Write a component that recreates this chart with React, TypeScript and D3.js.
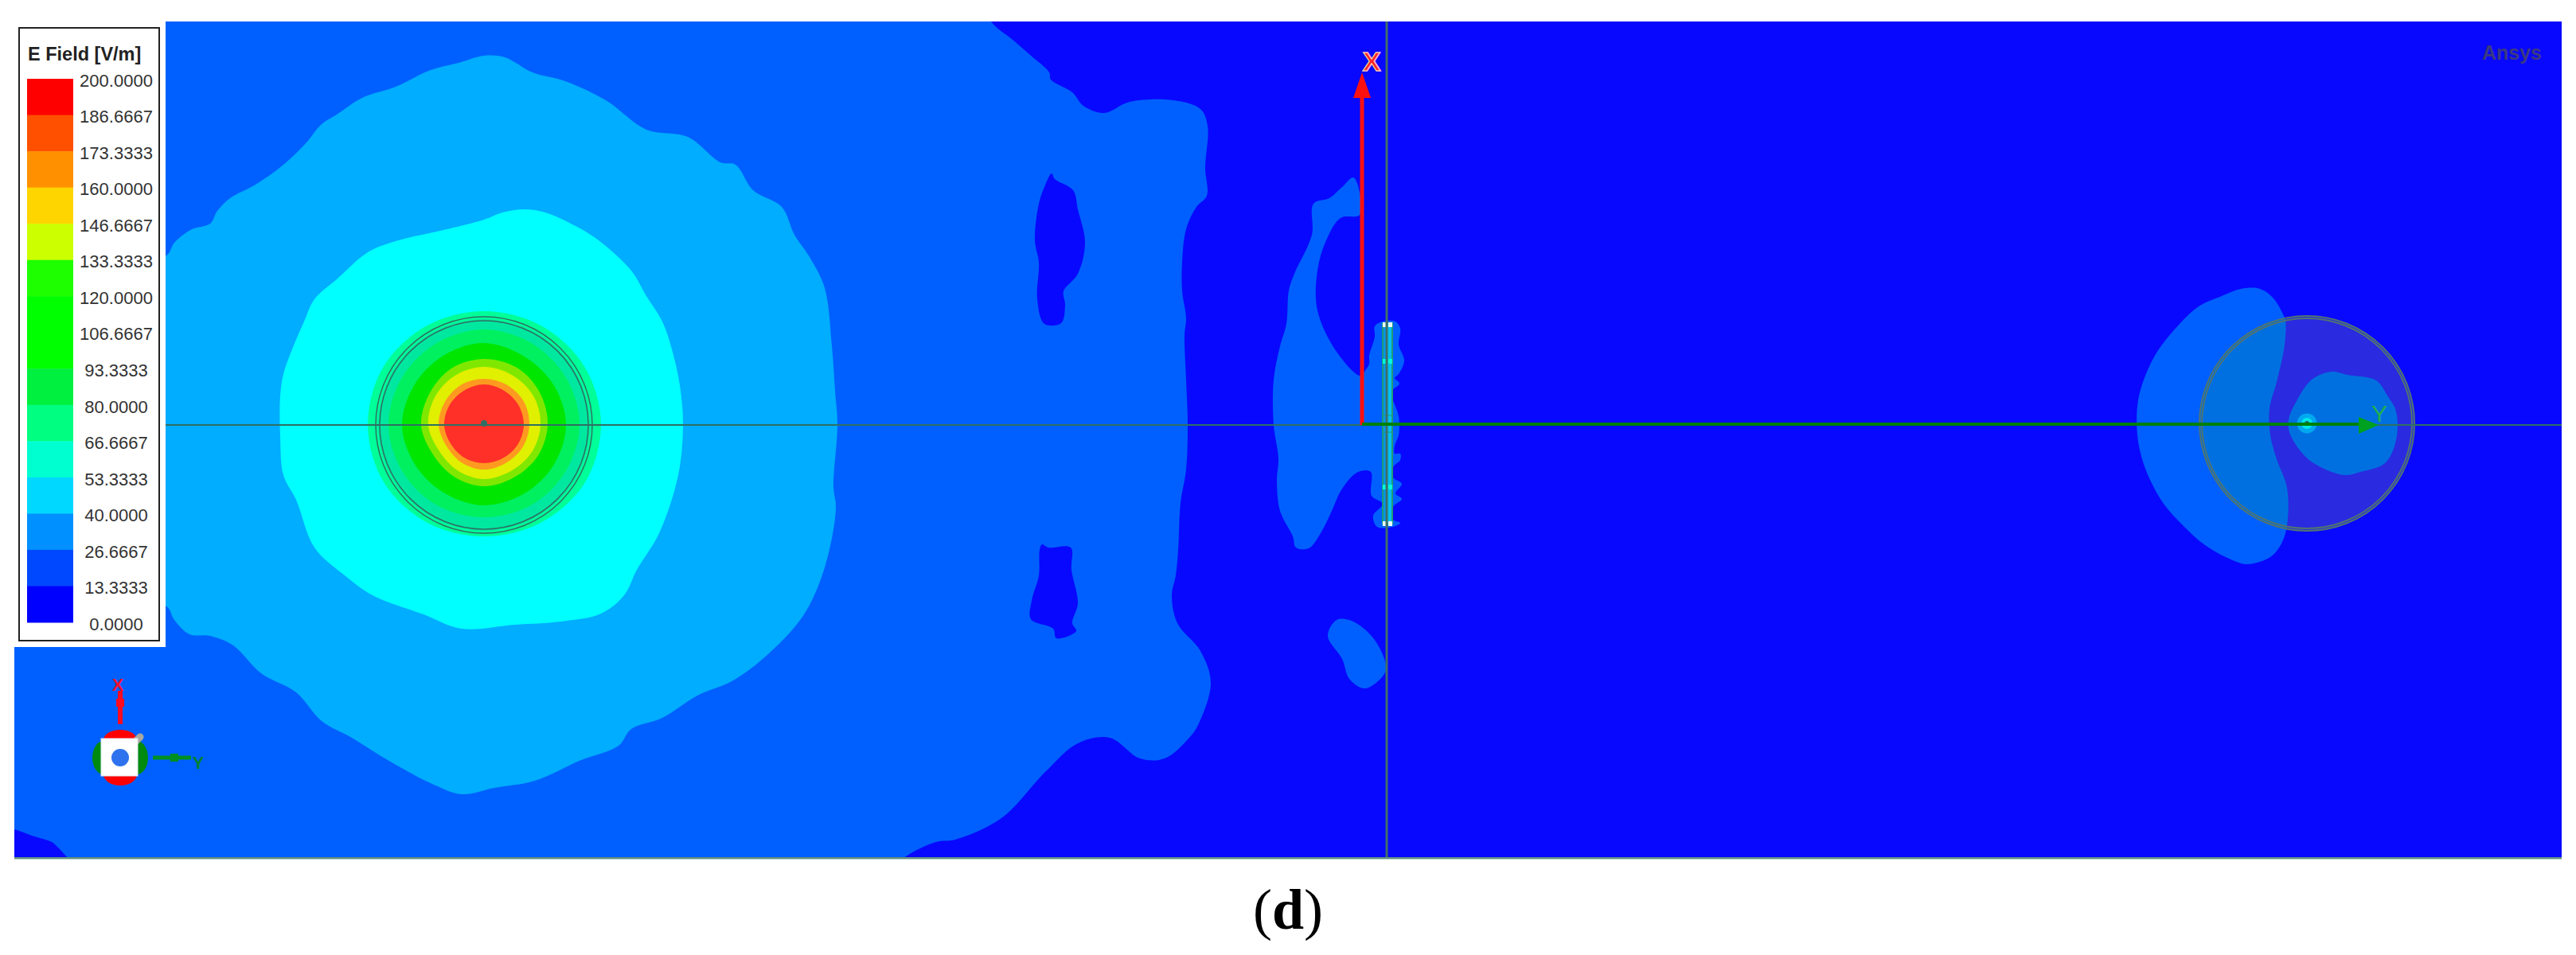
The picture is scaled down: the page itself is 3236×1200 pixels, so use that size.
import * as d3 from 'd3'

const W = 3236
const H = 1200
const PLOT = { left: 18, right: 3218, top: 27, bottom: 1078 }

const legendLabels = ['200.0000', '186.6667', '173.3333', '160.0000', '146.6667', '133.3333', '120.0000', '106.6667', '93.3333', '80.0000', '66.6667', '53.3333', '40.0000', '26.6667', '13.3333', '0.0000']
const legendColors = ['#ff0000', '#ff5000', '#ff9000', '#ffd500', '#ccff00', '#1eff00', '#00ff00', '#00ff00', '#00f040', '#00ff80', '#00ffd0', '#00d8ff', '#0090ff', '#0048ff', '#0000ff']

// contours (plot frame)
const midContour = [[-60, -60], [1215, -40], [1245, 27], [1271, 49], [1294, 69], [1318, 91], [1320, 100], [1347, 116], [1361, 133], [1387, 142], [1419, 128], [1474, 126], [1508, 137], [1517, 158], [1514, 211], [1516, 246], [1503, 260], [1490, 288], [1485, 330], [1485, 365], [1490, 400], [1488, 421], [1490, 477], [1492, 534], [1490, 590], [1483, 632], [1480, 691], [1477, 723], [1472, 748], [1479, 783], [1508, 818], [1521, 858], [1506, 909], [1494, 927], [1463, 953], [1432, 953], [1394, 927], [1354, 934], [1314, 969], [1258, 1028], [1200, 1055], [1176, 1058], [1135, 1078], [1090, 1120], [120, 1120], [85, 1078], [70, 1062], [65, 1058], [40, 1050], [18, 1042], [-30, 1030]]
const holeUpper = [[1321, 218], [1325, 225], [1348, 239], [1354, 263], [1363, 305], [1354, 344], [1336, 366], [1338, 383], [1333, 406], [1312, 407], [1303, 376], [1305, 330], [1300, 302], [1305, 256], [1312, 235]]
const holeLower = [[1309, 684], [1317, 688], [1345, 688], [1346, 716], [1354, 758], [1347, 783], [1352, 793], [1327, 802], [1323, 790], [1295, 778], [1296, 755], [1305, 723], [1306, 691]]
const lightContour = [[150, 321], [209, 321], [219, 305], [241, 288], [264, 281], [273, 265], [289, 249], [321, 232], [356, 207], [385, 179], [404, 156], [423, 144], [455, 123], [497, 109], [541, 88], [576, 79], [608, 70], [634, 72], [669, 91], [710, 102], [761, 126], [812, 163], [864, 172], [905, 204], [924, 207], [946, 239], [982, 260], [998, 295], [1017, 323], [1036, 362], [1045, 435], [1049, 491], [1052, 534], [1047, 611], [1050, 639], [1036, 713], [1010, 772], [966, 821], [921, 855], [876, 874], [832, 902], [793, 916], [777, 937], [730, 955], [672, 981], [621, 990], [580, 998], [545, 986], [487, 955], [442, 927], [404, 906], [372, 870], [328, 846], [293, 811], [264, 799], [238, 797], [219, 779], [209, 762], [150, 762]]
const cyanContour = [[352, 498], [356, 470], [367, 439], [382, 404], [395, 376], [423, 351], [462, 317], [497, 303], [557, 289], [608, 276], [631, 267], [659, 263], [685, 267], [723, 284], [752, 302], [793, 340], [812, 372], [832, 404], [844, 439], [854, 484], [858, 534], [852, 597], [828, 670], [800, 716], [784, 748], [755, 771], [704, 781], [647, 785], [580, 790], [532, 772], [468, 748], [433, 723], [395, 688], [372, 628], [356, 597], [352, 548]]
const centreBlob = [[1700, 223], [1708, 242], [1708, 270], [1684, 274], [1666, 302], [1655, 340], [1655, 390], [1679, 442], [1708, 472], [1713, 468], [1720, 457], [1720, 447], [1727, 423], [1727, 410], [1737, 404], [1753, 404], [1759, 413], [1757, 433], [1764, 453], [1757, 470], [1752, 475], [1758, 482], [1747, 493], [1752, 508], [1757, 523], [1757, 547], [1752, 560], [1752, 570], [1759, 570], [1759, 578], [1750, 587], [1750, 600], [1761, 608], [1753, 620], [1761, 627], [1750, 637], [1750, 653], [1759, 657], [1750, 662], [1730, 662], [1725, 648], [1737, 633], [1723, 623], [1722, 593], [1706, 593], [1686, 614], [1673, 642], [1659, 670], [1644, 689], [1628, 688], [1624, 674], [1608, 642], [1604, 604], [1606, 576], [1600, 534], [1600, 477], [1608, 435], [1616, 407], [1619, 365], [1626, 344], [1648, 295], [1650, 256], [1670, 249], [1686, 235]]
const lowerBlob = [[1679, 779], [1695, 779], [1717, 793], [1733, 814], [1741, 842], [1726, 860], [1713, 865], [1695, 853], [1686, 828], [1668, 799]]
const portBlob = [[2839, 363], [2856, 375], [2868, 395], [2871, 403], [2870, 433], [2860, 480], [2851, 513], [2852, 547], [2860, 577], [2873, 613], [2873, 660], [2866, 683], [2852, 700], [2823, 709], [2807, 705], [2770, 685], [2742, 660], [2718, 633], [2701, 603], [2691, 577], [2685, 547], [2685, 510], [2691, 483], [2708, 445], [2738, 407], [2762, 385], [2791, 372], [2815, 363]]
const portInner = [[2929, 467], [2949, 471], [2985, 478], [2999, 497], [3010, 517], [3010, 553], [2996, 582], [2965, 593], [2945, 597], [2908, 583], [2890, 567], [2876, 543], [2875, 527], [2886, 502], [2904, 477]]

// hot spot radii, clockwise from the top, every 30 degrees
const hotBands = [
  { color: '#00ff99', radii: [143, 144, 146, 147, 146, 142, 140, 142, 145, 146, 146, 144] },
  { color: '#00e8a0', radii: [133, 133, 133, 133, 133, 133, 133, 133, 133, 133, 133, 133] },
  { color: '#00f060', radii: [120, 119, 119, 120, 118, 117, 116, 117, 118, 120, 119, 119] },
  { color: '#00e600', radii: [103, 100, 101, 103, 101, 100, 101, 99, 100, 103, 101, 101] },
  { color: '#80e800', radii: [83, 83, 81, 80, 78, 76, 77, 75, 74, 79, 79, 82] },
  { color: '#e0f000', radii: [73, 72, 72, 71, 69, 67, 68, 66, 65, 70, 71, 72] },
  { color: '#ff9a20', radii: [58, 58, 58, 57, 56, 55, 56, 55, 54, 57, 57, 58] },
  { color: '#ff3028', radii: [51, 50, 50, 50, 49, 48, 48, 48, 48, 50, 50, 50] },
]
const HOT_CENTRE = [608, 534]
const PORT_CENTRE = [2898, 532]
const STRIP_MARKS = [
  { y: 408, color: '#e8fff8' },
  { y: 454, color: '#00ffd8' },
  { y: 612, color: '#00ffd8' },
  { y: 658, color: '#e8fff8' },
]

const GRID = '#2f6f63'
const DARK = '#0808ff'
const MID = '#0060ff'
const LIGHT = '#00adff'
const CYAN = '#00ffff'

export default function App() {
  const x = d3.scaleLinear().domain([PLOT.left, PLOT.right]).range([PLOT.left, PLOT.right])
  const y = d3.scaleLinear().domain([PLOT.top, PLOT.bottom]).range([PLOT.top, PLOT.bottom])
  const poly = d3.line<number[]>().x(d => x(d[0])).y(d => y(d[1])).curve(d3.curveCatmullRomClosed.alpha(0.5))
  const radial = d3.lineRadial<number>()
    .angle((_, i) => (i * Math.PI) / 6)
    .radius(d => d)
    .curve(d3.curveCatmullRomClosed)

  const legendY = d3.scaleBand<string>().domain(legendColors.map((_, i) => String(i))).range([99, 782])
  const labelY = d3.scalePoint<string>().domain(legendLabels).range([101, 784])

  const arrowRedTop = 91
  const originX = 1711
  const crossX = 1742
  const axisY = 534

  return (
    <svg width={W} height={H} style={{ position: 'absolute', left: 0, top: 0, display: 'block', background: '#fff' }}>
      <defs>
        <clipPath id="plot-clip"><rect x={PLOT.left} y={PLOT.top} width={PLOT.right - PLOT.left} height={PLOT.bottom - PLOT.top} /></clipPath>
        <clipPath id="port-clip"><circle cx={PORT_CENTRE[0]} cy={PORT_CENTRE[1]} r={135} /></clipPath>
      </defs>

      <g clipPath="url(#plot-clip)">
        <rect x={PLOT.left} y={PLOT.top} width={PLOT.right - PLOT.left} height={PLOT.bottom - PLOT.top} fill={DARK} />
        <path d={poly(midContour) ?? ''} fill={MID} />
        <path d={poly(holeUpper) ?? ''} fill={DARK} />
        <path d={poly(holeLower) ?? ''} fill={DARK} />
        <path d={poly(centreBlob) ?? ''} fill={MID} />
        <path d={poly(lowerBlob) ?? ''} fill={MID} />
        <path d={poly(lightContour) ?? ''} fill={LIGHT} />
        <path d={poly(cyanContour) ?? ''} fill={CYAN} />

        {/* hot spot */}
        <g transform={`translate(${x(HOT_CENTRE[0])},${y(HOT_CENTRE[1])})`}>
          {hotBands.map(b => <path key={b.color} d={radial(b.radii) ?? ''} fill={b.color} />)}
          <circle r={136} fill="none" stroke={GRID} strokeWidth={1.5} />
          <circle r={131} fill="none" stroke={GRID} strokeWidth={1.5} />
          <circle cy={-2} r={4} fill={GRID} />
        </g>

        {/* right port */}
        <path d={poly(portBlob) ?? ''} fill={MID} />
        <circle cx={PORT_CENTRE[0]} cy={PORT_CENTRE[1]} r={135} fill="#2a2ae0" />
        <g clipPath="url(#port-clip)">
          <path d={poly(portBlob) ?? ''} fill="#0070e0" />
          <path d={poly(portInner) ?? ''} fill="#0070e0" />
          <circle cx={PORT_CENTRE[0]} cy={PORT_CENTRE[1]} r={12.5} fill="#00a8f0" />
          <circle cx={PORT_CENTRE[0]} cy={PORT_CENTRE[1]} r={7} fill="#00e8e8" />
          <circle cx={PORT_CENTRE[0]} cy={PORT_CENTRE[1]} r={3} fill="#1a6a60" />
        </g>
        <circle cx={PORT_CENTRE[0]} cy={PORT_CENTRE[1]} r={135} fill="none" stroke="#4f7472" strokeWidth={2} />
        <circle cx={PORT_CENTRE[0]} cy={PORT_CENTRE[1]} r={132} fill="none" stroke="#4f7472" strokeWidth={2} />

        {/* feed strip */}
        <rect x={1737} y={406} width={12} height={252} fill="#0098e8" stroke="#1f9a78" strokeWidth={2} />
        <rect x={1743} y={406} width={5} height={252} fill="#00c0f0" />
        <line x1={1737} x2={1749} y1={522} y2={522} stroke="#1f9a78" />
        <line x1={1737} x2={1749} y1={543} y2={543} stroke="#1f9a78" />
        {STRIP_MARKS.map(m => (
          <g key={m.y}>
            <rect x={1737} y={m.y - 3} width={5} height={6} fill={m.color} />
            <rect x={1744} y={m.y - 3} width={5} height={6} fill={m.color} />
          </g>
        ))}

        {/* crosshair */}
        <line x1={x(crossX)} x2={x(crossX)} y1={PLOT.top} y2={PLOT.bottom} stroke="#3f6f68" strokeWidth={3} />
        <line x1={PLOT.left} x2={PLOT.right} y1={y(axisY)} y2={y(axisY)} stroke={GRID} strokeWidth={2} />

        {/* model axes */}
        <line x1={originX} x2={originX} y1={axisY} y2={arrowRedTop + 20} stroke="#ff1010" strokeWidth={5} />
        <path d={`M${originX},${arrowRedTop}L${originX + 11},123L${originX - 11},123Z`} fill="#ff1010" />
        <text x={1723} y={89} textAnchor="middle" fontFamily="Liberation Sans" fontWeight={700} fontSize={34} fill="#ff2020" stroke="#ffc0b0" strokeWidth={1.5}>X</text>
        <line x1={originX} x2={2965} y1={533} y2={533} stroke="#008000" strokeWidth={4} />
        <path d="M2963,524L2988,534L2963,545Z" fill="#00a020" />
        <text x={2989} y={530} textAnchor="middle" fontFamily="Liberation Sans" fontSize={30} fill="#20b050">Y</text>

        <text x={3193} y={75} textAnchor="end" fontFamily="Liberation Sans" fontWeight={700} fontSize={25} fill="#3a3a80">Ansys</text>
      </g>

      <rect x={PLOT.left} y={PLOT.bottom - 1} width={PLOT.right - PLOT.left} height={2.5} fill="#5f8f80" />

      {/* legend */}
      <rect x={PLOT.left} y={PLOT.top} width={190} height={786} fill="#fff" />
      <rect x={24} y={35} width={176} height={770} fill="#fff" stroke="#222" strokeWidth={2} />
      <text x={35} y={76} fontFamily="Liberation Sans" fontWeight={700} fontSize={23.5} fill="#222">E Field [V/m]</text>
      {legendColors.map((c, i) => (
        <rect key={i} x={34} y={legendY(String(i))} width={58} height={legendY.bandwidth() + 0.5} fill={c} />
      ))}
      {legendLabels.map(l => (
        <text key={l} x={146} y={labelY(l)} dy="0.35em" textAnchor="middle" fontFamily="Liberation Sans" fontSize={22} fill="#333">{l}</text>
      ))}

      {/* orientation gizmo */}
      <g>
        <ellipse cx={151} cy={930} rx={21} ry={13} fill="#ff0000" />
        <ellipse cx={151} cy={973} rx={21} ry={14} fill="#ff0000" />
        <ellipse cx={130} cy={952} rx={14} ry={21} fill="#008a10" />
        <ellipse cx={172} cy={952} rx={14} ry={21} fill="#008a10" />
        <line x1={170} x2={176} y1={932} y2={926} stroke="#a8a8a0" strokeWidth={9} strokeLinecap="round" />
        <rect x={127} y={928} width={46} height={47} fill="#fff" stroke="#dfe8f4" strokeWidth={1} />
        <circle cx={151} cy={952} r={11} fill="#2f72ee" />
        <line x1={151} x2={151} y1={910} y2={868} stroke="#ff0a20" strokeWidth={6} />
        <rect x={146} y={878} width={10} height={10} fill="#ff0a20" />
        <text x={148} y={868} textAnchor="middle" fontFamily="Liberation Sans" fontWeight={700} fontSize={22} fill="#f01030">X</text>
        <line x1={192} x2={240} y1={952} y2={952} stroke="#009020" strokeWidth={5} />
        <rect x={214} y={947} width={10} height={10} fill="#009020" />
        <text x={249} y={966} textAnchor="middle" fontFamily="Liberation Sans" fontWeight={700} fontSize={22} fill="#008030">Y</text>
      </g>

      {/* caption */}
      <text x={1618} y={1167} textAnchor="middle" fontFamily="Liberation Serif" fontSize={72} fill="#000">
        (<tspan fontWeight={700}>d</tspan>)
      </text>
    </svg>
  )
}
